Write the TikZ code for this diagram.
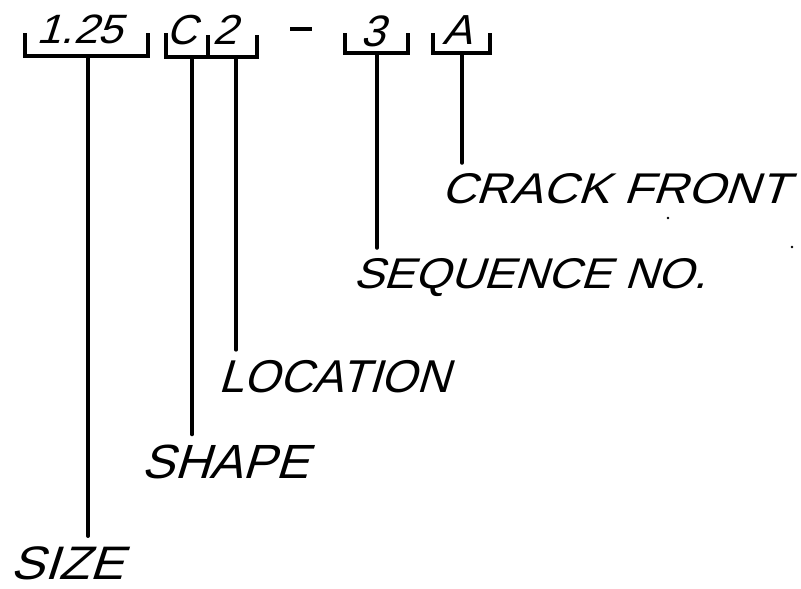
\documentclass[tikz,border=0pt]{standalone}
\usepackage{fontspec}
\setmainfont{Liberation Sans}
\newfontfamily\lettfont[FakeSlant=0.3]{Liberation Sans}
\newcommand\lettering[3]{\scalebox{#2}[1]{\fontsize{#1}{#1}\selectfont\lettfont #3}}
\begin{document}
\begin{tikzpicture}[x=1pt,y=-1pt,
  ink/.style={line width=4pt,line cap=round,line join=miter},
  brk/.style={line width=3.6pt,line cap=butt,line join=miter},
  lbl/.style={inner sep=0pt,anchor=base west,text depth=0pt},
  stem/.style={ink,shorten >=10pt}]
\useasboundingbox (0,0) rectangle (801,589);
% top code text
\node[lbl] (t125) at (36,43) {\lettering{41}{1.08}{1.25}};
\node[lbl] (tC) at (166,44) {\lettering{42}{1.0}{C}};
\node[lbl] (t2) at (212,44) {\lettering{42}{1.05}{2}};
\node[lbl] (t3) at (360,46) {\lettering{44}{1.0}{3}};
\node[lbl] (tA) at (442,45) {\lettering{42}{1.05}{A}};
\draw[line width=4.5pt] (290,29) -- (312,29);
% brackets
\coordinate (b1) at (88,56);
\coordinate (b2) at (192,57);
\coordinate (b2b) at (236,57);
\coordinate (b3) at (377,53);
\coordinate (b4) at (462,53);
\draw[brk] (25,33) -- (25,56) -- (148,56) -- (148,33);
\draw[brk] (166,33) -- (166,57) -- (257,57) -- (257,35);
\draw[brk] (208,35) -- (208,57);
\draw[brk] (345,33) -- (345,53) -- (408,53) -- (408,33);
\draw[brk] (433,33) -- (433,53) -- (490,53) -- (490,33);
% labels
\node[lbl] (crack) at (441,203) {\lettering{43}{1.12}{CRACK FRONT}};
\node[lbl] (seq) at (353,288) {\lettering{43}{1.07}{SEQUENCE NO.}};
\node[lbl] (loc) at (218,392) {\lettering{46}{1.0}{LOCATION}};
\node[lbl] (shape) at (141,478) {\lettering{48}{1.03}{SHAPE}};
\node[lbl] (size) at (10,579) {\lettering{47}{1.08}{SIZE}};
% stems
\draw[stem] (b1) -- (b1 |- size.north);
\draw[stem] (b2) -- (b2 |- shape.north);
\draw[stem] (b2b) -- (b2b |- loc.north);
\draw[stem] (b3) -- (b3 |- seq.north);
\draw[stem] (b4) -- (b4 |- crack.north);
% specks
\fill (668,218) circle (1.3pt);
\fill (792,247) circle (1.3pt);
\end{tikzpicture}
\end{document}
